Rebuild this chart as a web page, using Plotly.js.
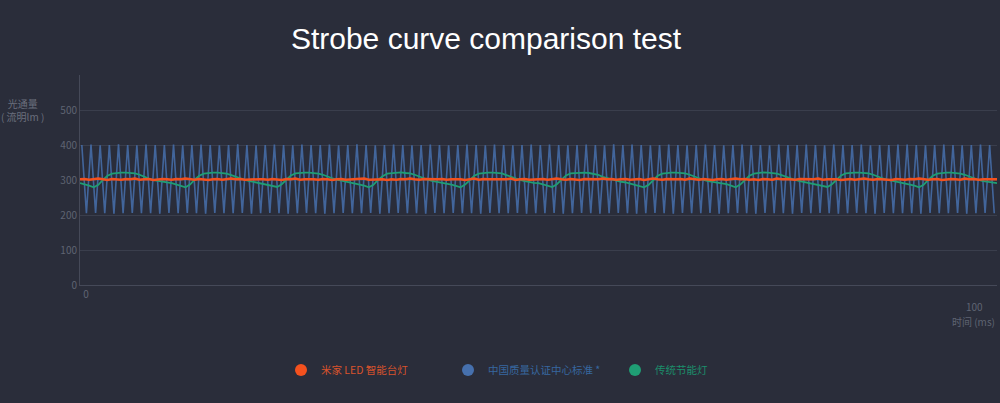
<!DOCTYPE html>
<html>
<head>
<meta charset="utf-8">
<script src="https://cdn.plot.ly/plotly-3.0.1.min.js"></script>
<style>
  html, body { margin: 0; padding: 0; background: #2a2d3a; }
  #chart { width: 1000px; height: 403px; }
</style>
</head>
<body>
<div id="chart"></div>
<script>
// ---- data (time in ms, luminous flux in lm) ----
const seriesNames = ["米家 LED 智能台灯", "中国质量认证中心标准 *", "传统节能灯"];
const seriesColors = ["#f4511e", "#4670ad", "#1f9e74"];
const legendTextColors = ["#d9532c", "#37679f", "#1b8f6b"];

const yTickValues = [0, 100, 200, 300, 400, 500];
const yTickLabels = ["0", "100", "200", "300", "400", "500"];
const xTickValues = [0];
const xTickLabels = ["0"];
const xEndLabel = "100";
const xAxisName = "时间 (ms)";
const yAxisName = "光通量<br>( 流明lm )";
const titleText = "Strobe curve comparison test";

// standard reference: triangle flicker, samples every 0.5 ms starting at 0.2 ms
const blueStart = 0.2;
const blueStep = 0.5;
const blueValues = [
  400,205,401,206,399,205,400,204,402,205,400,206,399,205,401,205,400,204,400,206,
  401,205,399,206,400,205,401,204,400,206,399,205,400,205,402,206,400,204,399,205,
  400,206,401,205,400,204,399,205,401,206,400,205,400,204,401,205,399,206,400,205,
  402,205,400,206,399,204,400,205,401,206,400,205,399,205,400,204,401,206,400,205,
  399,206,400,205,401,205,400,204,399,206,401,205,400,205,399,206,400,204,401,205,
  400,205,401,206,400,204,399,205,400,206,401,205,400,204,399,205,402,206,400,205,
  401,204,400,205,399,206,400,205,401,204,400,206,399,205,400,205,401,206,400,204,
  399,205,400,206,401,205,400,204,400,206,399,205,401,205,400,204,400,206,401,205,
  400,206,399,205,401,204,400,205,400,206,401,205,399,204,400,206,400,205,401,205,
  401,205,400,204,399,206,400,205,401,205,400,206,399,204,400,205,401,206,400,205
];

// traditional energy-saving lamp, samples every 0.5 ms from 0 ms
const greenStart = 0;
const greenStep = 0.5;
const greenValues = [
  291,288,284,279,286,300,312,318,320,321,321,320,319,315,309,304,300,297,295,293,
  291,288,283,279,287,301,312,318,320,321,321,320,318,314,309,304,300,297,294,292,
  290,287,283,280,288,302,313,319,321,321,321,320,318,315,309,305,301,298,295,293,
  291,288,284,279,286,300,311,318,320,321,322,320,319,315,310,304,300,297,295,292,
  290,287,283,279,287,301,312,318,320,321,321,320,319,314,309,304,300,297,294,292,
  291,288,284,280,288,302,313,319,320,321,321,320,318,315,309,305,301,298,295,293,
  290,287,283,279,286,300,312,318,320,321,321,320,319,315,310,304,300,297,295,292,
  291,288,284,279,287,301,312,318,320,322,321,320,318,314,309,304,300,297,294,292,
  290,287,283,280,288,302,313,319,321,321,321,320,319,315,309,305,301,298,295,293,
  291,288,284,279,286,300,312,318,320,321,321,320,318,315,310,304,300,297,295,292,
  291
];

// Mi LED desk lamp, samples every 0.5 ms from 0 ms
const orangeStart = 0;
const orangeStep = 0.5;
const orangeValues = [
  302,303,301,302,304,302,300,303,302,301,303,302,304,301,302,303,300,302,303,302,
  301,303,302,304,302,301,303,302,300,302,303,301,302,304,302,303,301,302,303,302,
  302,301,303,302,300,303,302,304,301,302,303,302,301,303,302,300,302,303,301,302,
  303,302,304,301,302,303,302,300,302,301,303,302,304,302,301,303,302,301,302,303,
  301,302,303,302,300,302,304,301,303,302,302,301,303,302,304,300,302,303,301,302,
  302,303,301,302,304,302,301,303,302,300,303,302,301,302,304,302,303,301,302,303,
  301,302,303,300,302,304,302,301,303,302,302,303,301,304,302,301,303,302,300,302,
  303,301,302,304,302,303,301,302,300,303,302,301,304,302,303,302,301,303,302,301,
  302,304,301,302,303,302,300,302,303,301,302,304,302,301,303,302,302,300,303,302,
  301,303,302,304,302,301,302,303,300,302,303,302,301,304,302,303,301,302,303,302,
  302
];

const traces = [
  { type: "scatter", mode: "lines", x0: blueStart, dx: blueStep, y: blueValues,
    line: { color: seriesColors[1], width: 1.6 }, opacity: 0.85, showlegend: false, hoverinfo: "skip" },
  { type: "scatter", mode: "lines", x0: greenStart, dx: greenStep, y: greenValues,
    line: { color: seriesColors[2], width: 1.8 }, showlegend: false, hoverinfo: "skip" },
  { type: "scatter", mode: "lines", x0: orangeStart, dx: orangeStep, y: orangeValues,
    line: { color: seriesColors[0], width: 2.5 }, showlegend: false, hoverinfo: "skip" }
];
// legend entries (dot markers)
[0, 1, 2].forEach(i => {
  traces.push({
    type: "scatter", mode: "markers", x: [null], y: [null],
    name: '<span style="color:' + legendTextColors[i] + '">' + seriesNames[i] + '</span>',
    marker: { color: seriesColors[i], size: 12, symbol: "circle" },
    showlegend: true, hoverinfo: "skip"
  });
});

const layout = {
  width: 1000, height: 403,
  paper_bgcolor: "#2a2d3a", plot_bgcolor: "#2a2d3a",
  margin: { l: 80, r: 3, t: 75, b: 118 },
  font: { family: "Noto Sans CJK SC, Liberation Sans, sans-serif", color: "#5f6472", size: 10 },
  title: {
    text: titleText, xref: "container", yref: "container",
    x: 0.486, xanchor: "center", y: 0.905, yanchor: "middle",
    font: { family: "Liberation Sans, Arial, sans-serif", size: 30, color: "#ffffff" }
  },
  xaxis: {
    range: [0, 100], showgrid: false, zeroline: false,
    showline: true, linecolor: "#454958", linewidth: 1,
    tickvals: xTickValues, ticktext: xTickLabels, ticks: "",
    ticklabelshift: 6,
    tickfont: { size: 10, color: "#5f6472" }
  },
  yaxis: {
    range: [0, 600], zeroline: false,
    showline: true, linecolor: "#454958", linewidth: 1,
    showgrid: true, gridcolor: "#3a3e4c", gridwidth: 1,
    tickvals: yTickValues, ticktext: yTickLabels, ticks: "",
    tickfont: { size: 10, color: "#5f6472" }
  },
  showlegend: true,
  legend: {
    orientation: "h", x: 0.281, xref: "container", xanchor: "left",
    y: 0.082, yref: "container", yanchor: "middle",
    bgcolor: "rgba(0,0,0,0)", font: { size: 10.5, family: "Noto Sans CJK SC, sans-serif" },
    itemwidth: 30, entrywidth: 122, entrywidthmode: "pixels"
  },
  annotations: [
    { text: yAxisName, xref: "paper", yref: "paper", x: -0.063, y: 0.833,
      xanchor: "center", yanchor: "middle", showarrow: false, align: "center",
      font: { size: 10, color: "#6a6f7d" } },
    { text: xEndLabel, xref: "paper", yref: "paper", x: 0.976, y: -0.1,
      xanchor: "center", yanchor: "middle", showarrow: false,
      font: { size: 10, color: "#5f6472" } },
    { text: xAxisName, xref: "paper", yref: "paper", x: 1.0, y: -0.176,
      xanchor: "right", yanchor: "middle", showarrow: false,
      font: { size: 10, color: "#5f6472" } }
  ]
};

Plotly.newPlot("chart", traces, layout, { displayModeBar: false, staticPlot: true });
</script>
</body>
</html>
